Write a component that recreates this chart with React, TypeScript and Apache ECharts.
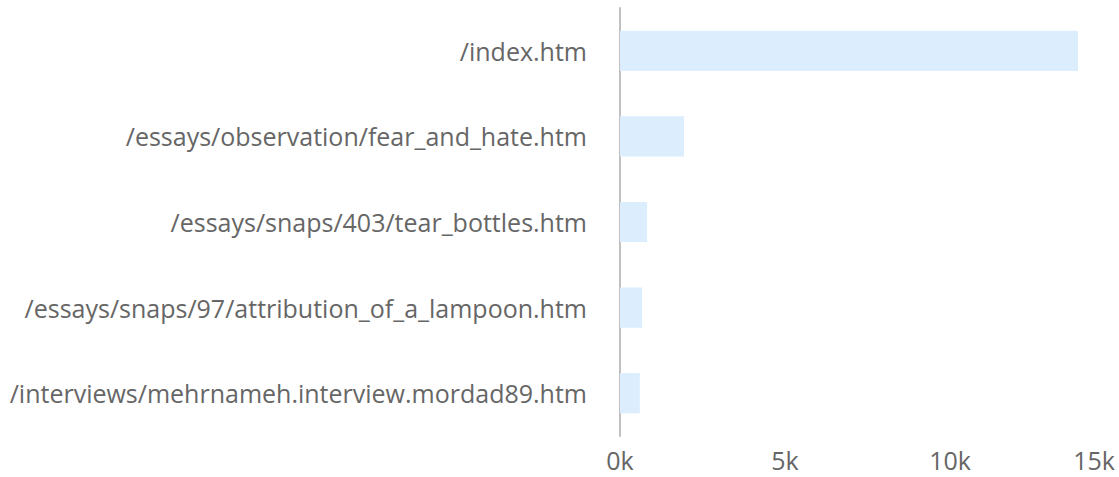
import React, { useEffect, useRef } from "react";
import * as echarts from "echarts";

const categories = [
  "/index.htm",
  "/essays/observation/fear_and_hate.htm",
  "/essays/snaps/403/tear_bottles.htm",
  "/essays/snaps/97/attribution_of_a_lampoon.htm",
  "/interviews/mehrnameh.interview.mordad89.htm",
];
const values = [13880, 1940, 820, 670, 600];
const xTicks = { min: 0, max: 15000, interval: 5000 };

export default function App() {
  const ref = useRef<HTMLDivElement>(null);
  useEffect(() => {
    if (!ref.current) return;
    const chart = echarts.init(ref.current, undefined, { renderer: "svg" });
    chart.setOption({
      animation: false,
      textStyle: { fontFamily: "Open Sans" },
      grid: { left: 620, right: 4, top: 8, bottom: 41, containLabel: false },
      xAxis: {
        type: "value",
        min: xTicks.min,
        max: xTicks.max,
        interval: xTicks.interval,
        axisLine: { show: false },
        axisTick: { show: false },
        splitLine: { show: false },
        axisLabel: {
          formatter: (v: number) => `${v / 1000}k`,
          fontSize: 25,
          lineHeight: 25,
          color: "#666666",
          fontFamily: "Open Sans",
          margin: 11,
          alignMaxLabel: "right",
        },
      },
      yAxis: {
        type: "category",
        data: categories,
        inverse: true,
        axisLine: { show: true, lineStyle: { color: "#c0c0c0", width: 2 } },
        axisTick: { show: false },
        axisLabel: {
          fontSize: 25,
          color: "#666666",
          fontFamily: "Open Sans",
          margin: 33,
        },
      },
      series: [
        {
          type: "bar",
          data: values,
          barWidth: "47%",
          itemStyle: { color: "#dcedfd" },
        },
      ],
    });
    return () => chart.dispose();
  }, []);
  return <div ref={ref} style={{ width: 1119, height: 477, position: "absolute", left: 0, top: 0 }} />;
}
